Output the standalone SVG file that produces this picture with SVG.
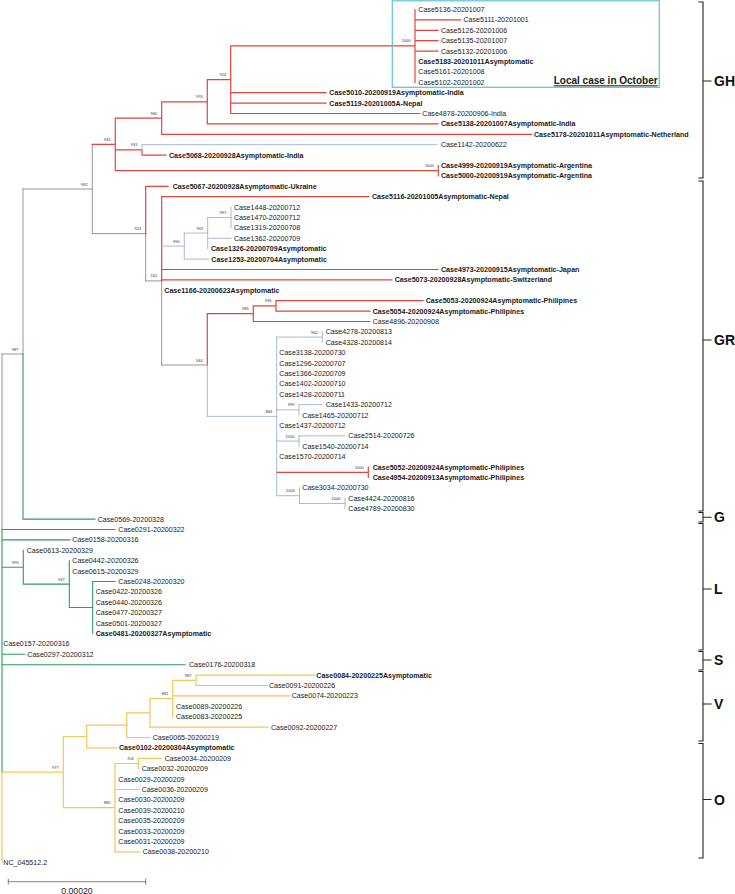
<svg xmlns="http://www.w3.org/2000/svg" width="735" height="894" viewBox="0 0 735 894">
<style>
text{font-family:"Liberation Sans",Arial,sans-serif;fill:#1a1a1a}
.t{font-size:7.1px}
.tb{font-size:7.1px;font-weight:bold}
.n{font-size:4px;text-anchor:end;fill:#333}
.cl{font-size:14px;font-weight:bold;fill:#111}
path{fill:none;stroke-linecap:square}
.r{stroke:#e0463f;stroke-width:1.2}
.b{stroke:#9fb2cf;stroke-width:0.9}
.g{stroke:#8a8a8a;stroke-width:0.9}
.gr{stroke:#2f9c5c;stroke-width:1.1}
.y{stroke:#f4c658;stroke-width:1.2}
.k{stroke:#222;stroke-width:1.1}
</style>
<g id="connectors">
<path class="g" d="M23 189V354M2 354H23M23 189H92.3M92.3 144.4V233.6M92.3 233.6H145.7M145.7 233.6V280.9M145.7 280.9H161.7M161.7 280.9V365M161.7 365H207.3M2 354V529.5"/>
<path class="r" d="M92.3 144.4H115.3M115.3 118.05V170.7M115.3 118.05H161.7M161.7 101.8V134.3M161.7 101.8H207.3M161.7 134.3H531.5M207.3 79.7V123.9M207.3 79.7H230.7M207.3 123.9H438M230.7 45.9V113.5M230.7 45.9H415M230.7 92.7H326M230.7 103.1H326M230.7 113.5H420M415 9.5V82.3M415 19.9H460.5M415 30.3H438M415 40.7H438M415 51.1H438M115.3 149.9H142M142 149.9V155.1M142 155.1H166M115.3 170.7H438.3M438.3 165.5V175.9"/>
<path class="b" d="M142 144.7V149.9M142 144.7H437"/>
<path class="r" d="M145.7 186.3V233.6M145.7 186.3H168M161.7 196.7V280.9M161.7 196.7H369M161.7 269.5H438M161.7 279.9H392M207.3 313.7V365M207.3 313.7H253.3M253.3 305.9V321.5M253.3 305.9H276M276 300.7V311.1M276 300.7H423M276 311.1H370M253.3 321.5H370M276.7 472.3H368.3M368.3 467.1V477.5"/>
<path class="b" d="M161.7 246.1H184.3M184.3 233.1V259.1M184.3 233.1H207.7M184.3 259.1H208.3M207.7 217.5V248.7M207.7 217.5H231M207.7 238.3H231M231 207.1V227.9M207.3 365V416.4M207.3 416.4H276.7M276.7 337.1V495.7M276.7 337.1H322.3M322.3 331.9V342.3M276.7 409.9H299M299 404.7V415.1M299 404.7H322M276.7 441.1H299M299 435.9V446.3M299 435.9H345M276.7 495.7H299.5M299.5 487.9V503.5M299.5 503.5H345M345 498.3V508.7"/>
<path class="gr" d="M23 354V519.1M23 519.1H95M2 529.5V772.2M2 529.5H115M2 539.9H70M2 567.2H23.3M23.3 550.3V584.1M23.3 584.1H69.3M69.3 560.7V607.5M69.3 607.5H92.7M92.7 581.5V633.5M92.7 581.5H115M2 654.3H25M2 664.7H185"/>
<path class="y" d="M2 772.2V862.3M2 772.2H63.3M63.3 736.5V807.7M63.3 736.5H86.7M86.7 725.2V747.9M86.7 747.9H116.5M86.7 725.2H126.7M126.7 712.8V737.5M126.7 737.5H150M126.7 712.8H150M150 698.5V727.1M150 727.1H268M150 698.5H172.7M172.7 680.3V716.7M172.7 695.9H290M172.7 680.3H196M196 675.1V685.5M196 675.1H315M196 685.5H267M63.3 807.7H115M115 763.5V851.9M115 763.5H138.3M138.3 758.3V768.7M138.3 758.3H161.5M115 789.5H139M115 851.9H139.5"/>
</g>
<g id="box-local-october">
<rect x="392.3" y="0.8" width="267" height="86.5" fill="none" stroke="#66c7d6" stroke-width="1.3"/>
<text x="553.7" y="84.3" style="font-size:10px;font-weight:bold" text-decoration="underline">Local case in October</text>
</g>
<g id="leaves">
<g id="l0"><text class="t" x="418.3" y="12">Case5136-20201007</text></g>
<g id="l1"><text class="t" x="463.5" y="22.4">Case5111-20201001</text></g>
<g id="l2"><text class="t" x="441" y="32.8">Case5126-20201006</text></g>
<g id="l3"><text class="t" x="441" y="43.2">Case5135-20201007</text></g>
<g id="l4"><text class="t" x="441" y="53.6">Case5132-20201006</text></g>
<g id="l5"><text class="tb" x="418.3" y="64">Case5183-20201011Asymptomatic</text></g>
<g id="l6"><text class="t" x="418.3" y="74.4">Case5161-20201008</text></g>
<g id="l7"><text class="t" x="418.3" y="84.8">Case5102-20201002</text></g>
<g id="l8"><text class="tb" x="329.3" y="95.2">Case5010-20200919Asymptomatic-India</text></g>
<g id="l9"><text class="tb" x="329.3" y="105.6">Case5119-20201005A-Nepal</text></g>
<g id="l10"><text class="t" x="422.3" y="116">Case4878-20200906-India</text></g>
<g id="l11"><text class="tb" x="441" y="126.4">Case5138-20201007Asymptomatic-India</text></g>
<g id="l12"><text class="tb" x="534" y="136.8">Case5178-20201011Asymptomatic-Netherland</text></g>
<g id="l13"><text class="t" x="441" y="147.2">Case1142-20200622</text></g>
<g id="l14"><text class="tb" x="169" y="157.6">Case5068-20200928Asymptomatic-India</text></g>
<g id="l15"><text class="tb" x="441" y="168">Case4999-20200919Asymptomatic-Argentina</text></g>
<g id="l16"><text class="tb" x="441" y="178.4">Case5000-20200919Asymptomatic-Argentina</text></g>
<g id="l17"><text class="tb" x="172.7" y="188.8">Case5067-20200928Asymptomatic-Ukraine</text></g>
<g id="l18"><text class="tb" x="372" y="199.2">Case5116-20201005Asymptomatic-Nepal</text></g>
<g id="l19"><text class="t" x="234" y="209.6">Case1448-20200712</text></g>
<g id="l20"><text class="t" x="234" y="220">Case1470-20200712</text></g>
<g id="l21"><text class="t" x="234" y="230.4">Case1319-20200708</text></g>
<g id="l22"><text class="t" x="234" y="240.8">Case1362-20200709</text></g>
<g id="l23"><text class="tb" x="211" y="251.2">Case1326-20200709Asymptomatic</text></g>
<g id="l24"><text class="tb" x="211.3" y="261.6">Case1253-20200704Asymptomatic</text></g>
<g id="l25"><text class="tb" x="441" y="272">Case4973-20200915Asymptomatic-Japan</text></g>
<g id="l26"><text class="tb" x="394.7" y="282.4">Case5073-20200928Asymptomatic-Switzerland</text></g>
<g id="l27"><text class="tb" x="164.3" y="292.8">Case1166-20200623Asymptomatic</text></g>
<g id="l28"><text class="tb" x="425.7" y="303.2">Case5053-20200924Asymptomatic-Philipines</text></g>
<g id="l29"><text class="tb" x="372.7" y="313.6">Case5054-20200924Asymptomatic-Philipines</text></g>
<g id="l30"><text class="t" x="372.7" y="324">Case4896-20200908</text></g>
<g id="l31"><text class="t" x="325.7" y="334.4">Case4278-20200813</text></g>
<g id="l32"><text class="t" x="325.7" y="344.8">Case4328-20200814</text></g>
<g id="l33"><text class="t" x="279.3" y="355.2">Case3138-20200730</text></g>
<g id="l34"><text class="t" x="279.3" y="365.6">Case1296-20200707</text></g>
<g id="l35"><text class="t" x="279.3" y="376">Case1366-20200709</text></g>
<g id="l36"><text class="t" x="279.3" y="386.4">Case1402-20200710</text></g>
<g id="l37"><text class="t" x="279.3" y="396.8">Case1428-20200711</text></g>
<g id="l38"><text class="t" x="325.7" y="407.2">Case1433-20200712</text></g>
<g id="l39"><text class="t" x="302.3" y="417.6">Case1465-20200712</text></g>
<g id="l40"><text class="t" x="279.3" y="428">Case1437-20200712</text></g>
<g id="l41"><text class="t" x="348.3" y="438.4">Case2514-20200726</text></g>
<g id="l42"><text class="t" x="302.3" y="448.8">Case1540-20200714</text></g>
<g id="l43"><text class="t" x="279.3" y="459.2">Case1570-20200714</text></g>
<g id="l44"><text class="tb" x="372.7" y="469.6">Case5052-20200924Asymptomatic-Philipines</text></g>
<g id="l45"><text class="tb" x="372.7" y="480">Case4954-20200913Asymptomatic-Philipines</text></g>
<g id="l46"><text class="t" x="302.3" y="490.4">Case3034-20200730</text></g>
<g id="l47"><text class="t" x="348.3" y="500.8">Case4424-20200816</text></g>
<g id="l48"><text class="t" x="348.3" y="511.2">Case4789-20200830</text></g>
<g id="l49"><text class="t" x="97.7" y="521.6">Case0569-20200328</text></g>
<g id="l50"><text class="t" x="118.3" y="532">Case0291-20200322</text></g>
<g id="l51"><text class="t" x="72.3" y="542.4">Case0158-20200316</text></g>
<g id="l52"><text class="t" x="26.7" y="552.8">Case0613-20200329</text></g>
<g id="l53"><text class="t" x="72.3" y="563.2">Case0442-20200326</text></g>
<g id="l54"><text class="t" x="72.3" y="573.6">Case0615-20200329</text></g>
<g id="l55"><text class="t" x="118.3" y="584">Case0248-20200320</text></g>
<g id="l56"><text class="t" x="95.7" y="594.4">Case0422-20200326</text></g>
<g id="l57"><text class="t" x="95.7" y="604.8">Case0440-20200326</text></g>
<g id="l58"><text class="t" x="95.7" y="615.2">Case0477-20200327</text></g>
<g id="l59"><text class="t" x="95.7" y="625.6">Case0501-20200327</text></g>
<g id="l60"><text class="tb" x="95.7" y="636">Case0481-20200327Asymptomatic</text></g>
<g id="l61"><text class="t" x="3.3" y="646.4">Case0157-20200316</text></g>
<g id="l62"><text class="t" x="27.3" y="656.8">Case0297-20200312</text></g>
<g id="l63"><text class="t" x="189" y="667.2">Case0176-20200318</text></g>
<g id="l64"><text class="tb" x="316.3" y="677.6">Case0084-20200225Asymptomatic</text></g>
<g id="l65"><text class="t" x="269" y="688">Case0091-20200226</text></g>
<g id="l66"><text class="t" x="291.7" y="698.4">Case0074-20200223</text></g>
<g id="l67"><text class="t" x="176" y="708.8">Case0089-20200226</text></g>
<g id="l68"><text class="t" x="176" y="719.2">Case0083-20200225</text></g>
<g id="l69"><text class="t" x="271" y="729.6">Case0092-20200227</text></g>
<g id="l70"><text class="t" x="152.7" y="740">Case0065-20200219</text></g>
<g id="l71"><text class="tb" x="119" y="750.4">Case0102-20200304Asymptomatic</text></g>
<g id="l72"><text class="t" x="164.7" y="760.8">Case0034-20200209</text></g>
<g id="l73"><text class="t" x="141.7" y="771.2">Case0032-20200209</text></g>
<g id="l74"><text class="t" x="118.3" y="781.6">Case0029-20200209</text></g>
<g id="l75"><text class="t" x="141.7" y="792">Case0036-20200209</text></g>
<g id="l76"><text class="t" x="118.3" y="802.4">Case0030-20200209</text></g>
<g id="l77"><text class="t" x="118.3" y="812.8">Case0039-20200210</text></g>
<g id="l78"><text class="t" x="118.3" y="823.2">Case0035-20200209</text></g>
<g id="l79"><text class="t" x="118.3" y="833.6">Case0033-20200209</text></g>
<g id="l80"><text class="t" x="118.3" y="844">Case0031-20200209</text></g>
<g id="l81"><text class="t" x="142.7" y="854.4">Case0038-20200210</text></g>
<g id="l82"><text class="t" x="3.3" y="864.8">NC_045512.2</text></g>
</g>
<g id="support">
<text class="n" x="410.5" y="42.4">1000</text>
<text class="n" x="226.2" y="76.2">924</text>
<text class="n" x="202.8" y="98.3">976</text>
<text class="n" x="157.2" y="114.5">960</text>
<text class="n" x="110.8" y="140.9">941</text>
<text class="n" x="137.5" y="146.4">931</text>
<text class="n" x="433.8" y="167.2">1000</text>
<text class="n" x="87.8" y="185.5">982</text>
<text class="n" x="141.2" y="230.1">923</text>
<text class="n" x="157.2" y="277.4">161</text>
<text class="n" x="179.8" y="242.6">990</text>
<text class="n" x="203.2" y="229.6">992</text>
<text class="n" x="226.5" y="214">997</text>
<text class="n" x="202.8" y="361.5">944</text>
<text class="n" x="248.8" y="310.2">985</text>
<text class="n" x="271.5" y="302.4">936</text>
<text class="n" x="317.8" y="333.6">962</text>
<text class="n" x="272.2" y="412.9">884</text>
<text class="n" x="294.5" y="406.4">999</text>
<text class="n" x="294.5" y="437.6">1000</text>
<text class="n" x="363.8" y="468.8">1000</text>
<text class="n" x="295" y="492.2">1000</text>
<text class="n" x="340.5" y="500">1000</text>
<text class="n" x="18.5" y="350.5">987</text>
<text class="n" x="18.8" y="563.7">995</text>
<text class="n" x="64.8" y="580.6">937</text>
<text class="n" x="191.5" y="676.8">987</text>
<text class="n" x="168.2" y="695">881</text>
<text class="n" x="58.8" y="768.7">977</text>
<text class="n" x="133.8" y="760">704</text>
<text class="n" x="110.5" y="804.2">885</text>
</g>
<g id="clade-GH"><path class="k" d="M699 2H703V178H699M703 81H711"/><text class="cl" x="714" y="86">GH</text></g>
<g id="clade-GR"><path class="k" d="M699 181H703V511H699M703 340H711"/><text class="cl" x="714" y="345">GR</text></g>
<g id="clade-G"><path class="k" d="M699 512.5H703V522H699M703 517.3H711"/><text class="cl" x="714" y="522.3">G</text></g>
<g id="clade-L"><path class="k" d="M699 523.5H703V650H699M703 589H711"/><text class="cl" x="714" y="594">L</text></g>
<g id="clade-S"><path class="k" d="M699 651.5H703V670H699M703 660H711"/><text class="cl" x="714" y="665">S</text></g>
<g id="clade-V"><path class="k" d="M699 671.5H703V741H699M703 704H711"/><text class="cl" x="714" y="709">V</text></g>
<g id="clade-O"><path class="k" d="M699 743.5H703V858H699M703 799.5H711"/><text class="cl" x="714" y="804.5">O</text></g>
<g id="scale-bar">
<path d="M8.3 881.7H145.7M8.3 879.2V884.2M145.7 879.2V884.2" stroke="#777" stroke-width="0.9"/>
<text x="77" y="893.5" style="font-size:8.7px" text-anchor="middle">0.00020</text>
</g>
</svg>
